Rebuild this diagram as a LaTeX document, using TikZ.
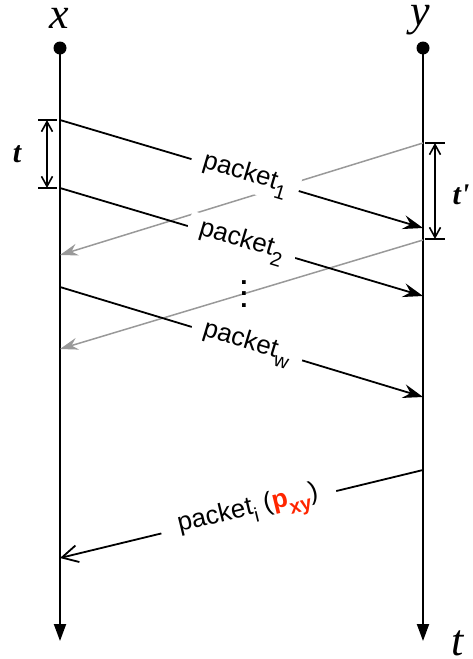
\documentclass[tikz,border=0pt]{standalone}
\usepackage{fontspec}
\setmainfont{Liberation Serif}
\setsansfont{Liberation Sans}
\usetikzlibrary{arrows.meta,positioning}
\definecolor{pxyred}{RGB}{255,38,0}
\newcommand{\psub}[1]{\raisebox{-4.5pt}{\fontsize{10}{11}\selectfont #1}}

\begin{document}
\begin{tikzpicture}[
        x=0.5pt, y=-0.5pt,
        font=\sffamily\fontsize{13}{15}\selectfont,
        % Styles
        endpoint/.style={circle, fill=black, inner sep=0pt, minimum size=6.5pt},
        hostlabel/.style={font=\rmfamily\itshape\fontsize{22}{24}\selectfont, inner sep=0pt},
        gaplabel/.style={font=\rmfamily\bfseries\itshape\fontsize{15}{17}\selectfont, inner sep=0pt},
        timeline/.style={line width=1pt, -{Triangle[length=8.5pt,width=6pt]}},
        sendarrow/.style={line width=0.9pt, -{Stealth[length=10pt,width=7pt,inset=3.5pt]}},
        ackarrow/.style={line width=0.75pt, draw=black!40, -{Stealth[length=9pt,width=6pt,inset=3pt]}},
        backarrow/.style={line width=0.9pt, -{Straight Barb[length=8pt,width=8.5pt]}},
        gapline/.style={line width=0.8pt, {Straight Barb[length=5pt,width=5.5pt]}-{Straight Barb[length=5pt,width=5.5pt]}},
        tickline/.style={line width=0.9pt},
        msg/.style={sloped, fill=white, inner xsep=6pt, inner ysep=1pt}
    ]
    \useasboundingbox (0,0) rectangle (472,659);

    % ================= HOSTS AND TIME LINES =================
    \node[endpoint] (xtop) at (60,48) {};
    \node[endpoint] (ytop) at (423,48) {};
    \coordinate (xbot) at (60,641);
    \coordinate (ybot) at (423,641);

    \node[hostlabel] (xlab) at (59,18) {x};
    \node[hostlabel] (ylab) at (420,20) {y};
    \node[hostlabel] (tlab) at (458,643) {t};

    \draw[timeline] (xtop.center) -- (xbot);
    \draw[timeline] (ytop.center) -- (ybot);

    % ================= MESSAGE END POINTS =================
    \coordinate (s1) at (60,120);  \coordinate (r1) at (423,228);
    \coordinate (s2) at (60,188);  \coordinate (r2) at (423,296);
    \coordinate (sw) at (60,287);  \coordinate (rw) at (423,397);
    \coordinate (a1) at (423,143); \coordinate (b1) at (60,255);
    \coordinate (a2) at (423,240); \coordinate (b2) at (60,349);
    \coordinate (ri) at (423,470); \coordinate (si) at (60,558);

    % Returning packets (drawn first, labels cover them)
    \draw[ackarrow] (a1) -- (b1);
    \draw[ackarrow] (a2) -- (b2);

    % Outgoing packets
    \draw[sendarrow] (s1) -- node[msg, pos=0.51] (m1) {packet\psub{1}} (r1);
    \draw[sendarrow] (s2) -- node[msg, pos=0.5] (m2) {packet\psub{2}} (r2);
    \draw[sendarrow] (sw) -- node[msg, pos=0.515] (mw) {packet\psub{w}} (rw);

    \node[font=\sffamily\bfseries\fontsize{13}{5.75}\selectfont, align=center, inner sep=0pt] (dots) at (244,294) {.\\.\\.};

    % Packet sent back
    \draw[backarrow] (ri) -- node[msg, pos=0.48, inner xsep=9pt] (mi)
        {packet\psub{i} ({\color{pxyred}\bfseries p\psub{xy}})} (si);

    % ================= SPACINGS =================
    \draw[gapline] (47,120) -- (47,188);
    \draw[tickline] (38,120) -- (57,120);
    \draw[tickline] (38,188) -- (57,188);
    \node[gaplabel] (tsend) at (17,154) {t};

    \draw[gapline] (435,143) -- (435,239);
    \draw[tickline] (425,143) -- (445,143);
    \draw[tickline] (425,239) -- (445,239);
    \node[gaplabel] (tback) at (461,195) {t\textquotesingle};

\end{tikzpicture}
\end{document}
